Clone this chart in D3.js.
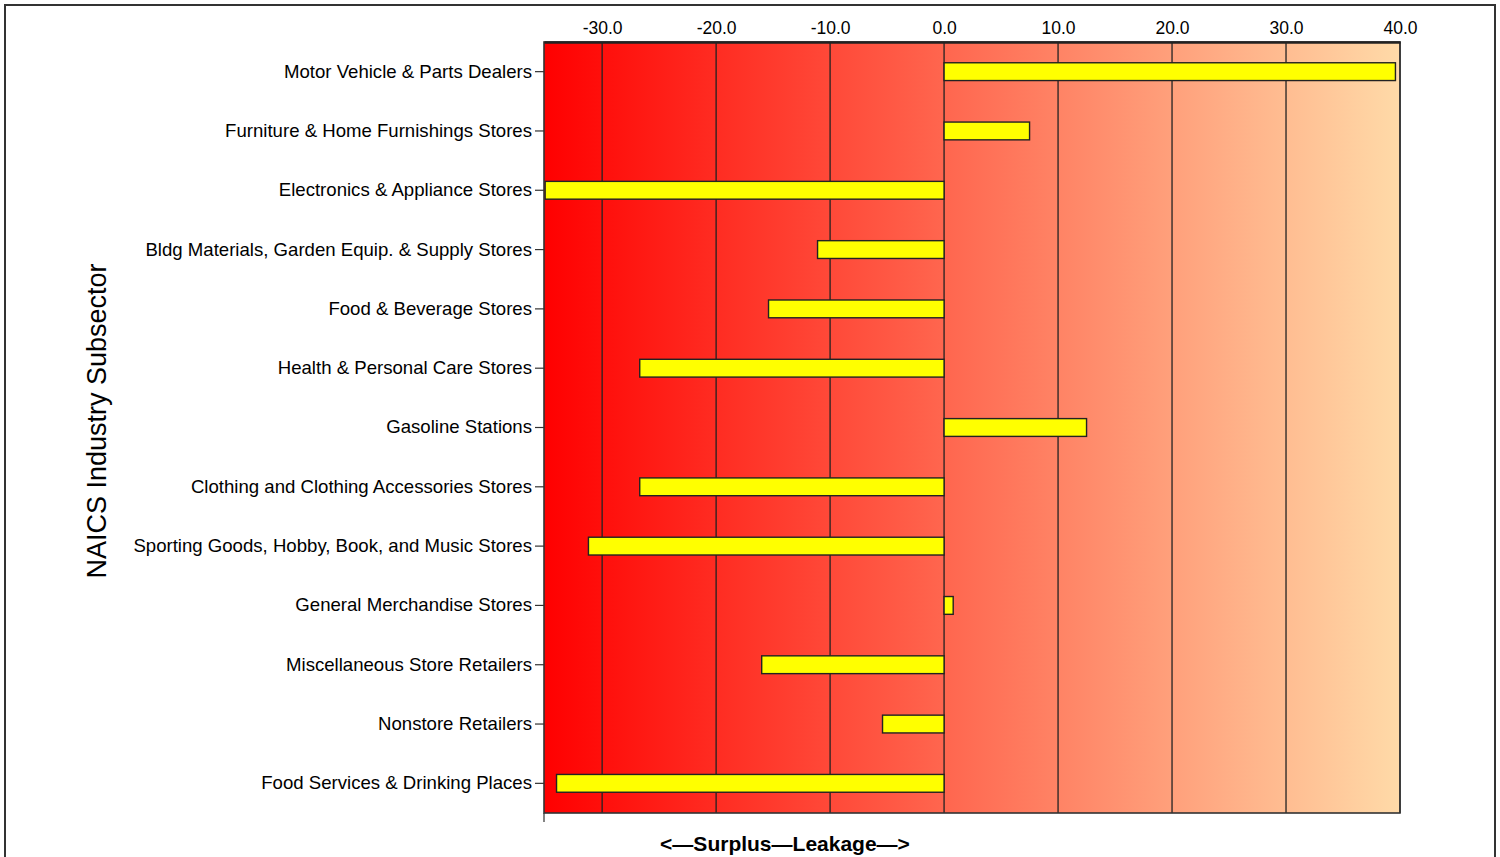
<!DOCTYPE html>
<html><head><meta charset="utf-8">
<script src="https://cdn.jsdelivr.net/npm/d3@7"></script>
<style>body{margin:0;background:#fff}svg{display:block;font-family:"Liberation Sans",Arial,sans-serif}</style>
</head><body>
<svg id="c" width="1500" height="857"></svg>
<script>
const categories = ["Motor Vehicle & Parts Dealers","Furniture & Home Furnishings Stores","Electronics & Appliance Stores","Bldg Materials, Garden Equip. & Supply Stores","Food & Beverage Stores","Health & Personal Care Stores","Gasoline Stations","Clothing and Clothing Accessories Stores","Sporting Goods, Hobby, Book, and Music Stores","General Merchandise Stores","Miscellaneous Store Retailers","Nonstore Retailers","Food Services & Drinking Places"];
const values = [39.6, 7.5, -35.0, -11.1, -15.4, -26.7, 12.5, -26.7, -31.2, 0.8, -16.0, -5.4, -34.0];
const tickValues = [-30, -20, -10, 0, 10, 20, 30, 40];
const xDomain = [-35.1, 40];

const svg = d3.select("#c");
const L = 544, R = 1400, T = 42, B = 813;
const x = d3.scaleLinear().domain(xDomain).range([L, R]);
const y = d3.scaleBand().domain(categories).range([T, B]).paddingInner(0.7).paddingOuter(0.35);

// outer frame
svg.append("rect").attr("x",5).attr("y",5).attr("width",1490).attr("height",870)
  .attr("fill","none").attr("stroke","#333").attr("stroke-width",2);

// gradient
const defs = svg.append("defs");
const g = defs.append("linearGradient").attr("id","bg").attr("x1","0").attr("x2","1").attr("y1","0").attr("y2","0");
g.append("stop").attr("offset","0").attr("stop-color","#ff0000");
g.append("stop").attr("offset","1").attr("stop-color","#ffdaa8");
svg.append("rect").attr("x",L).attr("y",T).attr("width",R-L).attr("height",B-T).attr("fill","url(#bg)");

// grid lines
svg.append("g").selectAll("line").data(tickValues).join("line")
  .attr("x1",d=>x(d)).attr("x2",d=>x(d)).attr("y1",T).attr("y2",B)
  .attr("stroke","#222").attr("stroke-width",1.3);

// bars
const bw = y.bandwidth();
svg.append("g").selectAll("rect").data(values).join("rect")
  .attr("x",(d)=>x(Math.min(0,d))).attr("width",d=>Math.abs(x(d)-x(0)))
  .attr("y",(d,i)=>y(categories[i])).attr("height",bw)
  .attr("fill","#ffff00").attr("stroke","#222").attr("stroke-width",1.4);

// plot border
svg.append("rect").attr("x",L).attr("y",T).attr("width",R-L).attr("height",B-T)
  .attr("fill","none").attr("stroke","#333").attr("stroke-width",1.6);

// top axis
const fmt = d => d.toFixed(1);
const xa = svg.append("g").attr("transform",`translate(0,${T})`)
  .call(d3.axisTop(x).tickValues(tickValues).tickFormat(fmt).tickSize(0).tickPadding(8));
xa.select(".domain").attr("stroke","#222").attr("stroke-width",2.5);
xa.selectAll("text").attr("font-size",17.5).attr("fill","#000").attr("font-family","Liberation Sans, Arial, sans-serif");

// left axis
const ya = svg.append("g").attr("transform",`translate(${L},0)`)
  .call(d3.axisLeft(y).tickSize(9).tickPadding(3));
ya.select(".domain").remove();
ya.selectAll("line").attr("stroke","#333").attr("stroke-width",1.2);
ya.selectAll("text").attr("font-size",18.6).attr("fill","#000").attr("font-family","Liberation Sans, Arial, sans-serif");
// small tick at bottom left
svg.append("line").attr("x1",L).attr("x2",L).attr("y1",B).attr("y2",B+9).attr("stroke","#333").attr("stroke-width",1.2);

// titles
svg.append("text").attr("transform","translate(106,421) rotate(-90)").attr("text-anchor","middle")
  .attr("font-size",27).text("NAICS Industry Subsector");
svg.append("text").attr("x",785).attr("y",851).attr("text-anchor","middle")
  .attr("font-size",21).attr("font-weight","bold").text("<\u2014Surplus\u2014Leakage\u2014>");
</script>
</body></html>
